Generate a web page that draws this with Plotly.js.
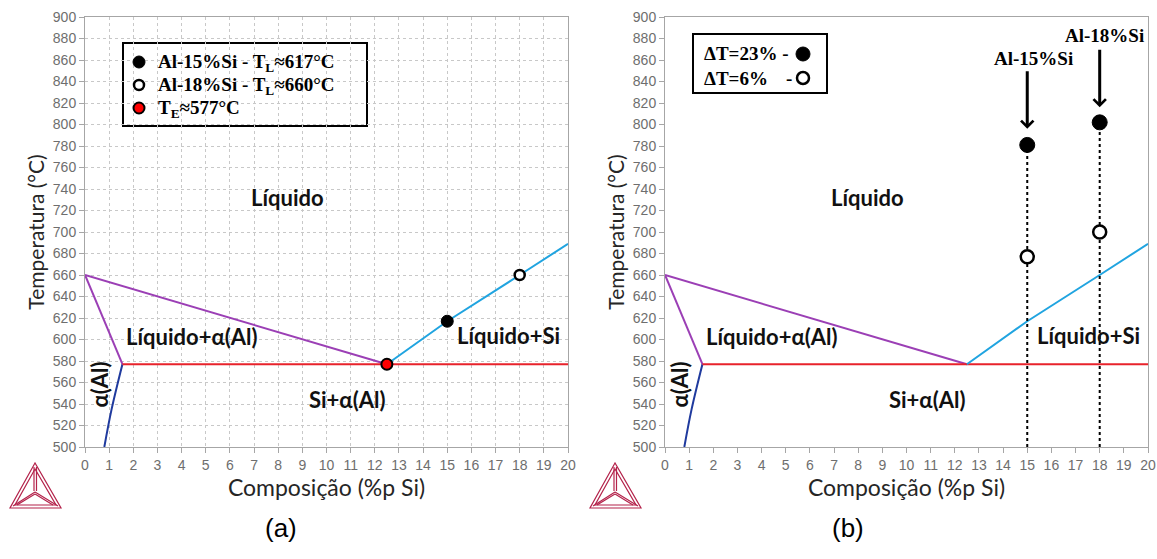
<!DOCTYPE html>
<html><head><meta charset="utf-8">
<script src="https://cdn.plot.ly/plotly-3.0.1.min.js"></script>
<style>html,body{margin:0;padding:0;background:#fff}#g{width:1157px;height:559px}</style>
</head><body><div id="g"></div>
<script>
// ---- data ----
const liqAlX = [0, 12.5], liqAlY = [660, 577];
const solAlX = [0, 1.55], solAlY = [660, 577];
const solvX = [0.8, 1.1, 1.55], solvY = [500, 535, 577];
const eutX = [1.55, 20], eutY = [577, 577];
const liqSiX = [12.5, 15, 18, 20], liqSiY = [577, 617, 660, 689];
const alloyX = [15, 18];
const liquidusT = [617, 660];
const eutecticPt = {x: 12.5, t: 577};
const pourHighT = [781, 802];   // ΔT=23%
const pourLowT = [677, 700];    // ΔT=6%
const alloyNames = ['Al-15%Si', 'Al-18%Si'];
const legendA = ['Al-15%Si - T<sub>L</sub>≈617°C', 'Al-18%Si - T<sub>L</sub>≈660°C', 'T<sub>E</sub>≈577°C'];
const legendB = ['ΔT=23% -', 'ΔT=6%'];
const yMin = 500, yMax = 900, xMin = 0, xMax = 20;

const W = 1157, H = 559;
const px = v => v / W, py = v => 1 - v / H;

const purple = '#9b3fb5', dblue = '#1f3a9e', red = '#e8222b', lblue = '#20a4e0';
const labelFont = {family: 'Lato, "Open Sans", sans-serif', size: 22, color: '#111'};
const serifBold = {family: '"Liberation Serif", "Times New Roman", serif', size: 19, color: '#000'};

function curves(xa, ya) {
  return [
    {x: liqAlX, y: liqAlY, mode: 'lines', line: {color: purple, width: 2}, xaxis: xa, yaxis: ya, hoverinfo: 'skip'},
    {x: solAlX, y: solAlY, mode: 'lines', line: {color: purple, width: 2}, xaxis: xa, yaxis: ya, hoverinfo: 'skip'},
    {x: solvX, y: solvY, mode: 'lines', line: {color: dblue, width: 2, shape: 'spline'}, xaxis: xa, yaxis: ya, hoverinfo: 'skip'},
    {x: eutX, y: eutY, mode: 'lines', line: {color: red, width: 2}, xaxis: xa, yaxis: ya, hoverinfo: 'skip'},
    {x: liqSiX, y: liqSiY, mode: 'lines', line: {color: lblue, width: 2}, xaxis: xa, yaxis: ya, hoverinfo: 'skip'}
  ];
}

const traces = [].concat(curves('x', 'y'), curves('x2', 'y2'));
// panel (a) points
traces.push({x: [alloyX[0]], y: [liquidusT[0]], mode: 'markers', xaxis: 'x', yaxis: 'y',
  marker: {color: '#000', size: 12, line: {color: '#000', width: 1}}});
traces.push({x: [alloyX[1]], y: [liquidusT[1]], mode: 'markers', xaxis: 'x', yaxis: 'y',
  marker: {color: '#fff', size: 10, line: {color: '#000', width: 2.5}}});
traces.push({x: [eutecticPt.x], y: [eutecticPt.t], mode: 'markers', xaxis: 'x', yaxis: 'y',
  marker: {color: '#ff0000', size: 11, line: {color: '#000', width: 2}}});
// panel (b) dotted verticals and points
for (let i = 0; i < alloyX.length; i++) {
  traces.push({x: [alloyX[i], alloyX[i]], y: [yMin, pourHighT[i]], mode: 'lines', xaxis: 'x2', yaxis: 'y2',
    line: {color: '#000', width: 2, dash: 'dot'}, hoverinfo: 'skip'});
}
traces.push({x: alloyX, y: pourHighT, mode: 'markers', xaxis: 'x2', yaxis: 'y2',
  marker: {color: '#000', size: 15, line: {color: '#000', width: 1}}});
traces.push({x: alloyX, y: pourLowT, mode: 'markers', xaxis: 'x2', yaxis: 'y2',
  marker: {color: '#fff', size: 13, line: {color: '#000', width: 2.5}}});

const tickFont = {family: '"Liberation Sans", Arial, sans-serif', size: 14, color: '#6e6e6e'};
function xaxis(dom, grid, anchor) {
  return {domain: dom, anchor: anchor, range: [xMin, xMax], dtick: 1, tick0: 0, showline: true, mirror: true,
    linecolor: '#a6a6a6', linewidth: 1, ticks: 'outside', ticklen: 5, tickcolor: '#a6a6a6', tickfont: tickFont,
    showgrid: grid, gridcolor: '#c8c8c8', griddash: 'dot', gridwidth: 1, zeroline: false,
    title: {text: 'Composição (%p Si)', font: {family: 'Lato, sans-serif', size: 23, color: '#262626'}, standoff: 6}};
}
function yaxis(anchor, grid) {
  return {domain: [py(447), py(17)], range: [yMin, yMax], dtick: 20, tick0: 500, anchor: anchor,
    showline: true, mirror: true, linecolor: '#a6a6a6', linewidth: 1, ticks: 'outside', ticklen: 5, tickcolor: '#a6a6a6',
    tickfont: tickFont, showgrid: grid, gridcolor: '#c8c8c8', griddash: 'dot', gridwidth: 1, zeroline: false,
    title: {text: 'Temperatura (°C)', font: {family: 'Lato, sans-serif', size: 21, color: '#262626'}, standoff: 2}};
}

const annotations = [];
function regionLabels(xr, yr) {
  const L = (x, y, t, extra) => annotations.push(Object.assign({x: x, y: y, xref: xr, yref: yr, text: '<b>' + t + '</b>', showarrow: false, font: labelFont}, extra || {}));
  L(8.4, 732, 'Líquido');
  L(4.39, 603, 'Líquido+α(Al)');
  L(17.55, 604, 'Líquido+Si');
  L(10.85, 544, 'Si+α(Al)');
  L(0.62, 558, 'α(Al)', {textangle: -90});
}
regionLabels('x', 'y');
regionLabels('x2', 'y2');

// arrows (b)
const arrowTail = [851, 871], arrowHead = [796, 816], labelT = [861, 883], labelDx = [0.24, 0.18];
for (let i = 0; i < alloyX.length; i++) {
  annotations.push({xref: 'x2', yref: 'y2', x: alloyX[i], y: arrowHead[i], axref: 'x2', ayref: 'y2',
    ax: alloyX[i], ay: arrowTail[i], text: '', showarrow: true, arrowhead: 4, arrowsize: 0.8, arrowwidth: 3, arrowcolor: '#000'});
  annotations.push({xref: 'x2', yref: 'y2', x: alloyX[i] + labelDx[i], y: labelT[i], text: '<b>' + alloyNames[i] + '</b>',
    showarrow: false, font: serifBold});
}

const shapes = [];
// legend (a): box, marker glyphs, texts
shapes.push({type: 'rect', xref: 'paper', yref: 'paper', x0: px(123), x1: px(367), y0: py(126), y1: py(43), line: {color: '#000', width: 2}, fillcolor: '#fff', layer: 'below'});
const legAY = [62, 85, 108];
const legAMarks = [{r: 6, fill: '#000', lw: 1}, {r: 5, fill: '#fff', lw: 2.5}, {r: 5.5, fill: '#ff0000', lw: 2}];
legAY.forEach((yy, i) => {
  const m = legAMarks[i];
  shapes.push({type: 'circle', xref: 'paper', yref: 'paper', x0: px(139 - m.r), x1: px(139 + m.r), y0: py(yy + m.r), y1: py(yy - m.r),
    line: {color: '#000', width: m.lw}, fillcolor: m.fill, layer: 'above'});
  annotations.push({xref: 'paper', yref: 'paper', x: px(156), y: py(yy + 1), xanchor: 'left', yanchor: 'middle',
    text: '<b>' + legendA[i] + '</b>', showarrow: false, font: serifBold});
});
// legend (b)
shapes.push({type: 'rect', xref: 'paper', yref: 'paper', x0: px(693), x1: px(827), y0: py(93), y1: py(34), line: {color: '#000', width: 2}, fillcolor: '#fff', layer: 'below'});
shapes.push({type: 'circle', xref: 'paper', yref: 'paper', x0: px(796), x1: px(810), y0: py(61), y1: py(47), line: {color: '#000', width: 1}, fillcolor: '#000', layer: 'above'});
shapes.push({type: 'circle', xref: 'paper', yref: 'paper', x0: px(797), x1: px(809), y0: py(84), y1: py(72), line: {color: '#000', width: 2.5}, fillcolor: '#fff', layer: 'above'});
annotations.push({xref: 'paper', yref: 'paper', x: px(702), y: py(54), xanchor: 'left', yanchor: 'middle', text: '<b>' + legendB[0] + '</b>', showarrow: false, font: serifBold});
annotations.push({xref: 'paper', yref: 'paper', x: px(702), y: py(78), xanchor: 'left', yanchor: 'middle', text: '<b>' + legendB[1] + '</b>', showarrow: false, font: serifBold});
annotations.push({xref: 'paper', yref: 'paper', x: px(784), y: py(78), xanchor: 'left', yanchor: 'middle', text: '<b>-</b>', showarrow: false, font: serifBold});
// panel letters
annotations.push({xref: 'paper', yref: 'paper', x: px(263), y: py(545), text: '(a)', showarrow: false, font: {family: '"Liberation Sans", Arial, sans-serif', size: 26, color: '#000'}});
annotations.push({xref: 'paper', yref: 'paper', x: px(866), y: py(545), text: '(b)', showarrow: false, font: {family: '"Liberation Sans", Arial, sans-serif', size: 26, color: '#000'}});

// Thermo-Calc style logo (decorative), two copies
function logo(ox) {
  const P = (x, y) => px(ox + x) + ',' + py(y);
  const c = '#b4234b';
  const d = [
    'M' + P(25, 463) + 'L' + P(0, 508) + 'L' + P(51, 508) + 'Z',
    'M' + P(25, 469) + 'L' + P(5, 505) + 'L' + P(46, 505) + 'Z',
    'M' + P(24, 467) + 'L' + P(24, 491) + 'M' + P(26.5, 467) + 'L' + P(26.5, 491),
    'M' + P(25, 492) + 'L' + P(3, 506) + 'M' + P(25, 494) + 'L' + P(7, 505),
    'M' + P(25, 492) + 'L' + P(48, 506) + 'M' + P(25, 494) + 'L' + P(43, 505)
  ];
  d.forEach(p => shapes.push({type: 'path', xref: 'paper', yref: 'paper', path: p, line: {color: c, width: 1.2}}));
}
logo(10);
logo(590);

const layout = {
  width: W, height: H, margin: {l: 0, r: 0, t: 0, b: 0}, paper_bgcolor: '#fff', plot_bgcolor: '#fff',
  xaxis: xaxis([px(85), px(568)], true, 'y'), yaxis: yaxis('x', true),
  xaxis2: xaxis([px(665), px(1148)], false, 'y2'), yaxis2: yaxis('x2', false),
  showlegend: false,
  annotations: annotations, shapes: shapes
};
Plotly.newPlot('g', traces, layout, {displayModeBar: false, staticPlot: true});
</script></body></html>
